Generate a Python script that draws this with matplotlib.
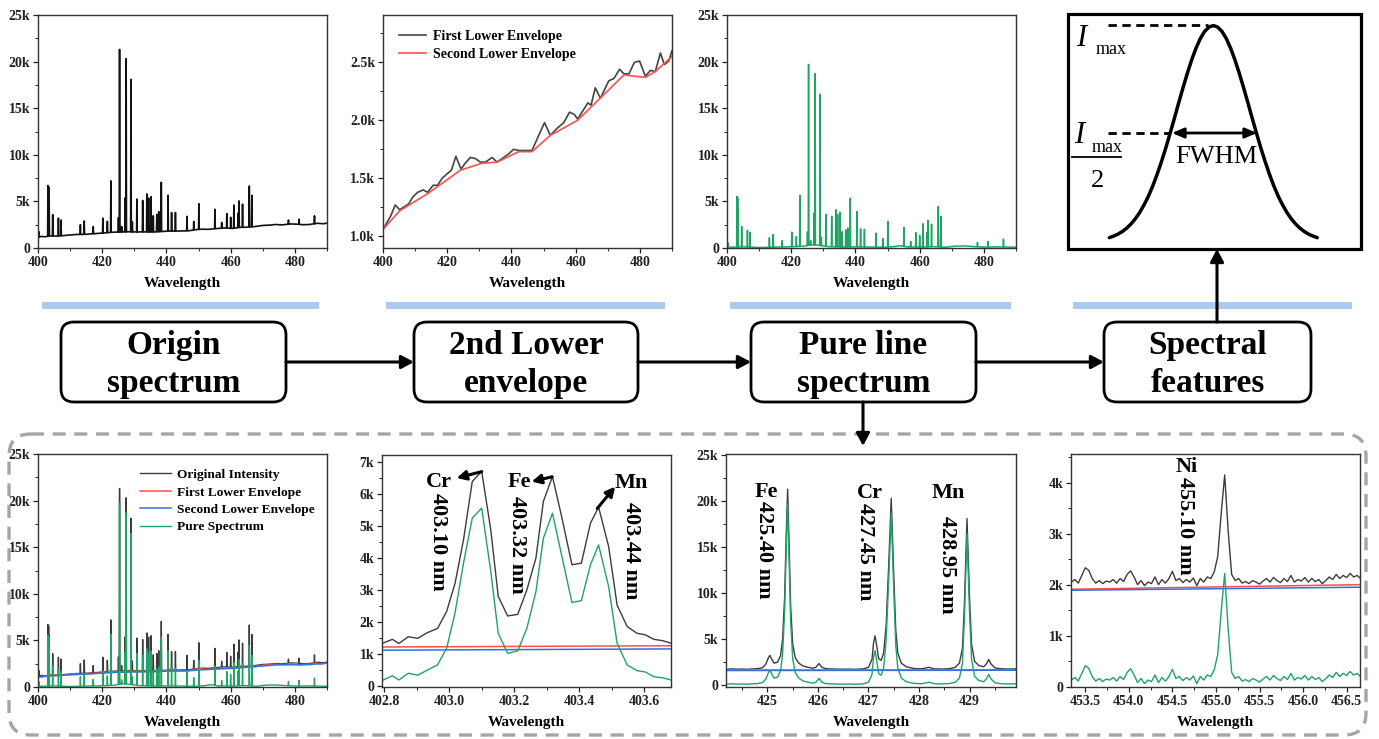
import numpy as np
import matplotlib
matplotlib.use('Agg')
import matplotlib.pyplot as plt
from matplotlib.patches import FancyBboxPatch, Rectangle
from matplotlib.ticker import MultipleLocator, FuncFormatter

# ------------------------------------------------------------------ data
# main spectrum (400-490 nm), intensities in thousands of counts
PEAK_NM = [400.3, 403.10, 403.32, 403.46, 404.58, 406.36, 407.17, 413.2, 414.4, 417.2,
           420.2, 421.6, 422.7, 425.05, 425.40, 426.05, 427.12, 427.45, 428.95, 429.38,
           430.8, 432.6, 433.9, 434.45, 435.2, 435.9, 437.0, 437.6, 438.4, 440.5,
           441.6, 442.8, 446.4, 448.5, 450.1, 455.1, 457.2, 458.8, 460.0, 461.0,
           462.3, 462.6, 463.7, 465.8, 466.6, 478.0, 481.3, 486.1]
ORIG_TOP = [1.75, 6.70, 6.55, 5.60, 3.57, 3.20, 3.00, 2.50, 2.90, 2.30,
            3.20, 2.86, 7.20, 3.25, 21.3, 2.30, 5.37, 20.3, 18.1, 2.80,
            5.25, 5.10, 5.80, 5.35, 5.50, 3.45, 3.60, 3.90, 7.05, 5.65,
            3.80, 3.80, 3.40, 2.85, 4.75, 4.15, 2.75, 3.70, 3.30, 4.60,
            3.75, 5.05, 4.70, 6.65, 5.65, 3.00, 3.10, 3.45]
PURE_TOP = [0.55, 5.55, 5.40, 4.40, 2.30, 1.90, 1.70, 1.10, 1.45, 0.80,
            1.70, 1.20, 5.65, 1.70, 19.7, 0.77, 3.75, 18.7, 16.5, 1.15,
            3.60, 3.40, 4.10, 3.60, 3.85, 1.75, 1.95, 2.15, 5.35, 3.90,
            2.05, 2.00, 1.60, 1.00, 2.85, 2.20, 0.70, 1.65, 1.35, 2.60,
            1.70, 2.95, 2.55, 4.45, 3.40, 0.60, 0.70, 0.95]

ORIG_BASE_NM = [400, 401, 402, 404, 405.5, 408, 410, 412, 415, 418, 420, 423.5, 426.5, 428,
                430.5, 432, 436.5, 439, 441, 444, 447, 449.5, 451, 453, 456, 458, 460.5, 463,
                464.5, 467.5, 470, 472, 474, 476, 478.7, 480.5, 482.5, 484.5, 487, 489, 490]
ORIG_BASE_K = [1.12, 1.25, 1.20, 1.30, 1.28, 1.33, 1.40, 1.45, 1.47, 1.55, 1.60, 1.70, 1.72, 1.75,
               1.72, 1.73, 1.73, 1.78, 1.82, 1.82, 1.85, 1.98, 2.02, 2.00, 2.10, 2.15, 2.10, 2.22,
               2.22, 2.30, 2.42, 2.45, 2.52, 2.48, 2.58, 2.56, 2.50, 2.52, 2.65, 2.60, 2.68]

PURE_BASE_NM = [400, 400.8, 402, 405.5, 410, 415, 419, 424, 426.5, 428.2, 431.5, 436.5, 439.5,
                445, 449, 452, 454, 456, 460.5, 464.5, 468, 471, 474, 477, 480, 484, 488, 490]
PURE_BASE_K = [0.15, 0.08, 0.10, 0.12, 0.05, 0.10, 0.12, 0.20, 0.35, 0.30, 0.15, 0.10, 0.12,
               0.10, 0.08, 0.15, 0.25, 0.12, 0.10, 0.15, 0.08, 0.20, 0.22, 0.15, 0.10, 0.12, 0.10, 0.08]

FIRST_NM = [400, 402.3, 403.8, 405.2, 408.0, 409.3, 410.8, 412.5, 413.9, 415.6, 417.0, 418.4,
            420.0, 421.3, 422.7, 424.3, 425.6, 427.2, 428.8, 430.3, 431.9, 434.0, 435.5, 437.6,
            439.1, 440.7, 442.3, 444.3, 446.4, 448.5, 450.3, 452.1, 454.2, 456.3, 458.1, 459.6,
            460.6, 462.2, 463.8, 464.8, 466.1, 467.7, 469.1, 470.3, 471.9, 473.7, 475.0, 476.6,
            478.3, 479.9, 481.7, 483.3, 484.8, 486.4, 487.6, 489.0, 490.0]
FIRST_K = [1.06, 1.17, 1.27, 1.23, 1.28, 1.34, 1.38, 1.40, 1.38, 1.44, 1.44, 1.50,
           1.54, 1.57, 1.69, 1.58, 1.63, 1.68, 1.67, 1.64, 1.64, 1.68, 1.64, 1.68,
           1.71, 1.75, 1.74, 1.74, 1.74, 1.87, 1.98, 1.87, 1.93, 1.98, 2.07, 2.05,
           2.01, 2.08, 2.15, 2.13, 2.28, 2.19, 2.27, 2.34, 2.36, 2.44, 2.40, 2.40,
           2.50, 2.51, 2.38, 2.43, 2.42, 2.58, 2.48, 2.51, 2.60]
SECOND_NM = [400, 405.2, 414.0, 424.1, 430.8, 435.5, 442.3, 446.4, 452.1, 460.6, 475.0, 481.7, 484.8, 490.0]
SECOND_K = [1.06, 1.22, 1.37, 1.57, 1.63, 1.64, 1.73, 1.73, 1.87, 2.00, 2.39, 2.37, 2.42, 2.55]

# zoom 402.8-403.7 nm
P6_NM = [402.793, 402.825, 402.845, 402.874, 402.903, 402.933, 402.964, 402.992, 403.018, 403.044,
         403.071, 403.100, 403.128, 403.151, 403.180, 403.211, 403.239, 403.267, 403.290, 403.318,
         403.347, 403.378, 403.407, 403.435, 403.460, 403.491, 403.517, 403.548, 403.578, 403.604,
         403.630, 403.656, 403.683]
P6_ORIG = [1.33, 1.46, 1.33, 1.54, 1.49, 1.67, 1.80, 2.33, 3.21, 4.57,
           6.39, 6.71, 4.88, 2.80, 2.19, 2.24, 3.00, 4.00, 5.77, 6.55,
           5.26, 3.79, 3.84, 5.09, 5.59, 4.36, 2.53, 1.86, 1.65, 1.60,
           1.46, 1.42, 1.34]
P6_PURE = [0.17, 0.32, 0.19, 0.40, 0.34, 0.50, 0.66, 1.18, 2.29, 3.84,
           5.25, 5.56, 3.58, 1.65, 1.02, 1.10, 1.80, 2.95, 4.62, 5.40,
           4.05, 2.61, 2.67, 3.79, 4.41, 3.11, 1.34, 0.66, 0.48, 0.44,
           0.29, 0.26, 0.19]
P6_ENV_NM = [402.793, 403.683]
P6_FIRST = [1.22, 1.26]
P6_SECOND = [1.12, 1.16]

# zoom 424.2-429.9 nm
P7_NM = [424.18, 424.30, 424.40, 424.50, 424.60, 424.70, 424.80, 424.90, 424.97, 425.02,
         425.05, 425.08, 425.13, 425.20, 425.26, 425.30, 425.34, 425.37, 425.40, 425.43,
         425.46, 425.50, 425.55, 425.62, 425.70, 425.80, 425.90, 425.96, 426.02, 426.08,
         426.15, 426.30, 426.45, 426.60, 426.75, 426.90, 427.00, 427.07, 427.10, 427.13,
         427.16, 427.20, 427.25, 427.30, 427.35, 427.40, 427.45, 427.50, 427.54, 427.58,
         427.65, 427.75, 427.90, 428.05, 428.20, 428.30, 428.45, 428.60, 428.72, 428.80,
         428.86, 428.90, 428.95, 429.00, 429.04, 429.10, 429.18, 429.28, 429.34, 429.38,
         429.42, 429.50, 429.60, 429.75, 429.92]
P7_ORIG = [1.72, 1.78, 1.74, 1.76, 1.73, 1.77, 1.80, 1.90, 2.30, 3.00,
           3.25, 2.90, 2.40, 2.50, 3.20, 5.0, 9.5, 16.0, 21.3, 15.0,
           8.5, 4.5, 3.0, 2.4, 2.1, 1.95, 1.85, 1.95, 2.35, 1.95,
           1.80, 1.76, 1.74, 1.75, 1.73, 1.78, 1.95, 2.8, 4.6, 5.37,
           4.4, 2.9, 2.7, 3.5, 6.5, 13.0, 20.3, 12.0, 6.0, 3.5,
           2.4, 2.0, 1.82, 1.78, 1.95, 1.78, 1.76, 1.80, 1.95, 2.4,
           4.0, 9.0, 18.1, 9.5, 4.5, 2.6, 2.15, 2.0, 2.35, 2.80,
           2.35, 1.9, 1.80, 1.76, 1.78]
P7_PURE = [0.10, 0.16, 0.12, 0.14, 0.11, 0.15, 0.18, 0.28, 0.68, 1.38,
           1.63, 1.28, 0.78, 0.88, 1.58, 3.38, 7.88, 14.38, 19.7, 13.38,
           6.88, 2.88, 1.38, 0.78, 0.48, 0.33, 0.23, 0.33, 0.73, 0.33,
           0.18, 0.14, 0.12, 0.13, 0.11, 0.16, 0.33, 1.18, 2.98, 3.75,
           2.78, 1.28, 1.08, 1.88, 4.88, 11.38, 18.7, 10.38, 4.38, 1.88,
           0.78, 0.38, 0.20, 0.16, 0.33, 0.16, 0.14, 0.18, 0.33, 0.78,
           2.38, 7.38, 16.5, 7.88, 2.88, 0.98, 0.53, 0.38, 0.73, 1.18,
           0.73, 0.28, 0.18, 0.14, 0.16]
P7_ENV_NM = [424.18, 429.92]
P7_FIRST = [1.65, 1.68]
P7_SECOND = [1.60, 1.63]

# zoom 453.3-456.7 nm (sampled every 0.04 nm from 453.34)
P8_START, P8_STEP = 453.34, 0.04
P8_ORIG = [2.05, 2.10, 2.03, 2.18, 2.33, 2.28, 2.12, 2.03, 2.08, 2.02,
           2.07, 2.05, 2.10, 2.03, 2.12, 2.06, 2.20, 2.27, 2.15, 2.00,
           2.08, 1.98, 2.05, 2.02, 2.15, 2.00, 2.10, 2.03, 2.12, 2.26,
           2.08, 2.12, 2.04, 2.10, 2.05, 2.13, 1.98, 2.12, 2.05, 2.15,
           2.12, 2.25, 2.55, 3.40, 4.15, 3.05, 2.20, 2.08, 2.12, 2.03,
           2.06, 2.02, 2.08, 2.05, 2.01, 2.07, 2.12, 2.05, 2.14, 2.08,
           2.04, 2.12, 2.06, 2.18, 2.05, 2.10, 2.07, 2.14, 2.05, 2.12,
           2.06, 2.10, 2.02, 2.08, 2.15, 2.10, 2.20, 2.12, 2.18, 2.14,
           2.22, 2.15, 2.18, 2.12]
P8_PURE = [0.13, 0.18, 0.11, 0.26, 0.41, 0.36, 0.20, 0.11, 0.16, 0.10,
           0.15, 0.13, 0.18, 0.11, 0.20, 0.14, 0.28, 0.35, 0.23, 0.08,
           0.16, 0.06, 0.13, 0.10, 0.23, 0.08, 0.18, 0.11, 0.20, 0.34,
           0.16, 0.20, 0.12, 0.18, 0.13, 0.21, 0.06, 0.20, 0.13, 0.23,
           0.20, 0.33, 0.63, 1.48, 2.22, 1.13, 0.28, 0.16, 0.20, 0.11,
           0.14, 0.10, 0.16, 0.13, 0.09, 0.15, 0.20, 0.13, 0.22, 0.16,
           0.12, 0.20, 0.14, 0.26, 0.13, 0.18, 0.15, 0.22, 0.13, 0.20,
           0.14, 0.18, 0.10, 0.16, 0.23, 0.18, 0.28, 0.20, 0.26, 0.22,
           0.30, 0.23, 0.26, 0.20]
P8_ENV_NM = [453.34, 456.66]
P8_FIRST = [1.91, 2.00]
P8_SECOND = [1.89, 1.95]

# conceptual Gaussian (x in half-widths at half maximum, y relative to I_max)
GAUSS_HALF_X = [0.0, 0.1, 0.2, 0.3, 0.4, 0.5, 0.6, 0.7, 0.8, 0.9, 1.0, 1.1, 1.2,
                1.3, 1.4, 1.5, 1.6, 1.7, 1.8, 1.9, 2.0, 2.1, 2.2, 2.3, 2.4]
GAUSS_HALF_Y = [1.0, 0.993, 0.973, 0.940, 0.895, 0.841, 0.779, 0.712, 0.642, 0.570, 0.500,
                0.432, 0.369, 0.310, 0.257, 0.210, 0.170, 0.135, 0.106, 0.082, 0.0625,
                0.047, 0.035, 0.026, 0.0185]

FLOW_LINES = [("Origin", "spectrum"), ("2nd Lower", "envelope"),
              ("Pure line", "spectrum"), ("Spectral", "features")]
LEGEND_LABELS = ["Original Intensity", "First Lower Envelope",
                 "Second Lower Envelope", "Pure Spectrum"]

# ------------------------------------------------------------------ style
C_ORIG = '#3c3c3c'
C_RED = '#ff4f4f'
C_BLUE = '#2f72de'
C_GREEN = '#1fa465'

plt.rcParams['font.family'] = ['Liberation Serif', 'DejaVu Serif']
plt.rcParams['font.weight'] = 'bold'
plt.rcParams['axes.labelweight'] = 'bold'

W, H = 1379, 739
fig = plt.figure(figsize=(W / 100, H / 100), dpi=100)


def add_ax(l, t, r, b):
    return fig.add_axes([l / W, 1 - b / H, (r - l) / W, (b - t) / H])


def kfmt(dec=0):
    def f(v, p):
        if abs(v) < 1e-9:
            return '0'
        return (f'{v:.{dec}f}k')
    return FuncFormatter(f)


def style(ax, xlim, ylim, xmaj, xmin, ymaj, ymin, ydec=0, xfmt=None):
    ax.set_xlim(*xlim)
    ax.set_ylim(*ylim)
    for s in ax.spines.values():
        s.set_linewidth(1.0)
        s.set_color('#333333')
    ax.xaxis.set_major_locator(MultipleLocator(xmaj))
    ax.xaxis.set_minor_locator(MultipleLocator(xmin))
    ax.yaxis.set_major_locator(MultipleLocator(ymaj))
    ax.yaxis.set_minor_locator(MultipleLocator(ymin))
    ax.yaxis.set_major_formatter(kfmt(ydec))
    if xfmt:
        ax.xaxis.set_major_formatter(FuncFormatter(lambda v, p: format(v, xfmt)))
    ax.tick_params(which='major', direction='out', length=3.5, width=0.9,
                   labelsize=10, pad=2, colors='#222222')
    ax.tick_params(which='minor', direction='out', length=2, width=0.7, colors='#222222')
    ax.set_xlabel('Wavelength', fontsize=11, fontweight='bold', labelpad=6)


def spectrum(base_nm, base_k, pk_nm, pk_top, hw):
    base_nm = np.asarray(base_nm, float)
    base_k = np.asarray(base_k, float)
    pk_nm = np.asarray(pk_nm, float)
    pk_top = np.asarray(pk_top, float)
    foot = np.interp(pk_nm, base_nm, base_k)
    xs = np.concatenate([base_nm, pk_nm - hw, pk_nm, pk_nm + hw])
    ys = np.concatenate([base_k, foot, pk_top, foot])
    o = np.argsort(xs, kind='stable')
    return xs[o], ys[o]


orig_x, orig_y = spectrum(ORIG_BASE_NM, ORIG_BASE_K, PEAK_NM, ORIG_TOP, 0.1)
pure_x, pure_y = spectrum(PURE_BASE_NM, PURE_BASE_K, PEAK_NM, PURE_TOP, 0.1)

# ------------------------------------------------------------------ top row
ax1 = add_ax(38, 15, 327, 248)
ax1.plot(orig_x, orig_y, color='#111111', lw=1.2)
style(ax1, (400, 490), (0, 25), 20, 10, 5, 2.5)

ax2 = add_ax(383, 15, 672, 248)
ax2.plot(FIRST_NM, FIRST_K, color='#444444', lw=1.2, label='First Lower Envelope')
ax2.plot(SECOND_NM, SECOND_K, color=C_RED, lw=1.2, label='Second Lower Envelope')
style(ax2, (400, 490), (0.900, 2.907), 20, 10, 0.5, 0.25, ydec=1)
ax2.legend(loc='upper left', bbox_to_anchor=(0.03, 0.965), frameon=False,
           handlelength=2.0, handletextpad=0.45, labelspacing=0.35, borderpad=0,
           prop={'weight': 'bold', 'size': 10})

ax3 = add_ax(727, 15, 1016, 248)
ax3.plot(pure_x, pure_y, color=C_GREEN, lw=1.1)
style(ax3, (400, 490), (0, 25), 20, 10, 5, 2.5)

# Gaussian sketch
ax4 = add_ax(1068, 14, 1361, 249)
gx = np.concatenate([-np.asarray(GAUSS_HALF_X[::-1]), np.asarray(GAUSS_HALF_X[1:])])
gy = np.concatenate([np.asarray(GAUSS_HALF_Y[::-1]), np.asarray(GAUSS_HALF_Y[1:])])
ax4.plot(gx, gy, color='black', lw=2.5, solid_capstyle='round')
ax4.set_xlim(-3.356, 3.411)
ax4.set_ylim(-0.034, 1.0535)
ax4.axis('off')

# ------------------------------------------------------------------ bottom row
ax5 = add_ax(38, 454, 327, 687)
ax5.plot(orig_x, orig_y, color=C_ORIG, lw=1.0, label=LEGEND_LABELS[0])
ax5.plot(FIRST_NM, FIRST_K, color=C_RED, lw=1.1, label=LEGEND_LABELS[1])
ax5.plot(SECOND_NM, SECOND_K, color=C_BLUE, lw=1.1, label=LEGEND_LABELS[2])
ax5.plot(pure_x, pure_y, color=C_GREEN, lw=1.0, label=LEGEND_LABELS[3])
style(ax5, (400, 490), (0, 25), 20, 10, 5, 2.5)
ax5.legend(loc='upper left', bbox_to_anchor=(0.33, 0.965), frameon=False,
           handlelength=2.3, handletextpad=0.5, labelspacing=0.38, borderpad=0,
           prop={'weight': 'bold', 'size': 9.6})

ax6 = add_ax(382, 455, 671, 687)
ax6.plot(P6_NM, P6_ORIG, color=C_ORIG, lw=1.0)
ax6.plot(P6_ENV_NM, P6_FIRST, color=C_RED, lw=1.1)
ax6.plot(P6_ENV_NM, P6_SECOND, color=C_BLUE, lw=1.1)
ax6.plot(P6_NM, P6_PURE, color=C_GREEN, lw=1.0)
style(ax6, (402.793, 403.683), (-0.03, 7.22), 0.2, 0.1, 1, 0.5, xfmt='.1f')

ax7 = add_ax(726, 454, 1016, 687)
ax7.plot(P7_NM, P7_ORIG, color=C_ORIG, lw=1.0)
ax7.plot(P7_ENV_NM, P7_FIRST, color=C_RED, lw=1.1)
ax7.plot(P7_ENV_NM, P7_SECOND, color=C_BLUE, lw=1.1)
ax7.plot(P7_NM, P7_PURE, color=C_GREEN, lw=1.0)
style(ax7, (424.18, 429.92), (-0.19, 25.11), 1, 0.5, 5, 2.5, xfmt='.0f')

ax8 = add_ax(1071, 454, 1360, 687)
p8_x = P8_START + P8_STEP * np.arange(len(P8_ORIG))
ax8.plot(p8_x, P8_ORIG, color=C_ORIG, lw=1.0)
ax8.plot(P8_ENV_NM, P8_FIRST, color=C_RED, lw=1.1)
ax8.plot(P8_ENV_NM, P8_SECOND, color=C_BLUE, lw=1.1)
ax8.plot(p8_x, P8_PURE, color=C_GREEN, lw=1.0)
style(ax8, (453.336, 456.653), (-0.006, 4.56), 0.5, 0.25, 1, 0.5, xfmt='.1f')

# peak annotations
lab = dict(fontsize=16, fontweight='bold', ha='center', va='center')
arr = dict(arrowstyle='-|>,head_length=0.55,head_width=0.28', lw=2.2, color='black',
           shrinkA=0, shrinkB=0)
ax6.text(402.9685, 6.376, 'Cr', **lab)
ax6.text(403.215, 6.376, 'Fe', **lab)
ax6.text(403.560, 6.345, 'Mn', **lab)
ax6.annotate('', xy=(403.023, 6.50), xytext=(403.100, 6.70), arrowprops=arr)
ax6.annotate('', xy=(403.254, 6.39), xytext=(403.317, 6.54), arrowprops=arr)
ax6.annotate('', xy=(403.511, 6.23), xytext=(403.456, 5.55), arrowprops=arr)
ax6.text(402.9645, 4.50, '403.10 nm', rotation=-90, **lab)
ax6.text(403.209, 4.42, '403.32 nm', rotation=-90, **lab)
ax6.text(403.560, 4.236, '403.44 nm', rotation=-90, **lab)

ax7.text(424.986, 21.02, 'Fe', **lab)
ax7.text(427.03, 20.88, 'Cr', **lab)
ax7.text(428.574, 20.88, 'Mn', **lab)
ax7.text(424.93, 14.69, '425.40 nm', rotation=-90, **lab)
ax7.text(426.93, 14.47, '427.45 nm', rotation=-90, **lab)
ax7.text(428.554, 13.06, '428.95 nm', rotation=-90, **lab)

ax8.text(454.664, 4.30, 'Ni', **lab)
ax8.text(454.644, 3.149, '455.10 nm', rotation=-90, **lab)

# ------------------------------------------------------------------ overlay (flow diagram)
ov = fig.add_axes([0, 0, 1, 1])
ov.set_xlim(0, W)
ov.set_ylim(H, 0)
ov.axis('off')
ov.patch.set_alpha(0)

for x0, x1 in [(42, 319), (386, 665), (730, 1011), (1073, 1352)]:
    ov.add_patch(Rectangle((x0, 302), x1 - x0, 7, facecolor='#abcbee', edgecolor='none'))

boxes = [(61, 286), (414, 638), (751, 976), (1104, 1311)]
for (x0, x1), (l1, l2) in zip(boxes, FLOW_LINES):
    ov.add_patch(FancyBboxPatch((x0, 322), x1 - x0, 80,
                                boxstyle='round,pad=0,rounding_size=13',
                                lw=2.0, edgecolor='black', facecolor='white', zorder=2))
    cx = (x0 + x1) / 2
    ov.text(cx, 354, l1, fontsize=24, fontweight='bold', ha='center', va='baseline', zorder=3)
    ov.text(cx, 392, l2, fontsize=24, fontweight='bold', ha='center', va='baseline', zorder=3)

harr = dict(arrowstyle='-|>,head_length=0.75,head_width=0.4', lw=2.2, color='black',
            shrinkA=0, shrinkB=0)
for (a0, a1), (b0, b1) in zip(boxes[:-1], boxes[1:]):
    ov.annotate('', xy=(b0, 362), xytext=(a1, 362), arrowprops=harr)
ov.annotate('', xy=(863, 446), xytext=(863, 402), arrowprops=harr)
ov.annotate('', xy=(1217, 249), xytext=(1217, 322), arrowprops=harr)

# dashed rounded frame around bottom row
ov.add_patch(FancyBboxPatch((9, 434), 1357, 301, boxstyle='round,pad=0,rounding_size=22',
                            lw=2.4, edgecolor='#a5a5a5', facecolor='none',
                            linestyle=(0, (3.9, 2.6))))

# Gaussian frame and labels
ov.add_patch(Rectangle((1068, 14), 293, 235, lw=2.3, edgecolor='black', facecolor='none'))
ov.plot([1108, 1208], [25, 25], color='black', lw=2.0, ls=(0, (3, 2)))
ov.plot([1108, 1169], [133, 133], color='black', lw=2.0, ls=(0, (3, 2)))
ov.annotate('', xy=(1172, 133), xytext=(1257, 133),
            arrowprops=dict(arrowstyle='<|-|>,head_length=0.7,head_width=0.3', lw=2.0,
                            color='black', shrinkA=0, shrinkB=0))
ov.text(1076, 46, 'I', fontsize=22, style='italic', fontweight='normal', va='baseline')
ov.text(1096, 54, 'max', fontsize=13, fontweight='normal', va='baseline')
ov.text(1074, 143, 'I', fontsize=22, style='italic', fontweight='normal', va='baseline')
ov.text(1092, 152, 'max', fontsize=13, fontweight='normal', va='baseline')
ov.plot([1072, 1121], [157, 157], color='black', lw=1.3)
ov.text(1097, 187, '2', fontsize=19, fontweight='normal', ha='center', va='baseline')
ov.text(1216, 157, 'FWHM', fontsize=19, fontweight='normal', ha='center', va='center')

fig.savefig('out.png', dpi=100)
